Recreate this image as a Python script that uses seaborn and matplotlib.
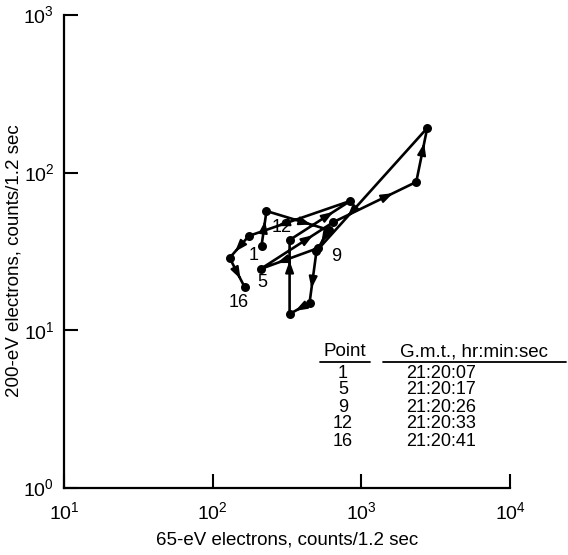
import numpy as np
import pandas as pd
import matplotlib
matplotlib.use("Agg")
import matplotlib.pyplot as plt
import seaborn as sns

# Data, in time order: points 1..16
point_no = list(range(1, 17))
e65 = [213, 230, 601, 514, 210, 649, 2339, 2773, 499, 448, 329, 329, 843, 175, 130, 164]
e200 = [34.3, 57.1, 43.4, 33.3, 24.5, 48.6, 87.3, 192, 31.8, 14.9, 12.7, 37.4, 66.2, 39.7, 28.8, 18.8]
labelled = [1, 5, 9, 12, 16]
label_offsets = {1: (-6, -7), 5: (1.5, -10), 9: (14, -4), 12: (-6, 9), 16: (-4, -11)}
table_points = ["1", "5", "9", "12", "16"]
table_times = ["21:20:07", "21:20:17", "21:20:26", "21:20:33", "21:20:41"]
xticks = [10, 100, 1000, 10000]
yticks = [1, 10, 100, 1000]

df = pd.DataFrame({"point": point_no, "x": e65, "y": e200})

sns.set_style("ticks")
plt.rcParams["font.family"] = ["Liberation Sans", "DejaVu Sans"]
plt.rcParams["mathtext.fontset"] = "custom"
plt.rcParams["mathtext.rm"] = "Liberation Sans"
plt.rcParams["text.color"] = "black"
plt.rcParams["axes.labelcolor"] = "black"

fig = plt.figure(figsize=(5.68, 5.55), dpi=100)
ax = fig.add_axes([0.1127, 0.1207, 0.7853, 0.8523])
ax.set_xscale("log")
ax.set_yscale("log")

sns.lineplot(data=df, x="x", y="y", sort=False, estimator=None, color="black",
             lw=1.9, ax=ax, legend=False)
sns.scatterplot(data=df, x="x", y="y", color="black", s=42, edgecolor="black",
                linewidth=0, ax=ax, legend=False, zorder=5)

# arrowheads along each segment
lx, ly = np.log10(df["x"].values), np.log10(df["y"].values)
for i in range(len(df) - 1):
    f = 0.72
    ax0, ay0 = lx[i] + (lx[i + 1] - lx[i]) * (f - 0.08), ly[i] + (ly[i + 1] - ly[i]) * (f - 0.08)
    ax1, ay1 = lx[i] + (lx[i + 1] - lx[i]) * f, ly[i] + (ly[i + 1] - ly[i]) * f
    ax.annotate("", xy=(10 ** ax1, 10 ** ay1), xytext=(10 ** ax0, 10 ** ay0),
                arrowprops=dict(arrowstyle="-|>,head_length=0.7,head_width=0.25",
                                color="black", lw=1.5, shrinkA=0, shrinkB=0))

for p in labelled:
    r = df[df["point"] == p].iloc[0]
    ax.annotate(str(p), xy=(r["x"], r["y"]), xytext=label_offsets[p],
                textcoords="offset points", ha="center", va="center", fontsize=13)

ax.set_xlim(10, 10000)
ax.set_ylim(1, 1000)
ax.set_xticks(xticks)
ax.set_yticks(yticks)
ax.set_xticklabels([r"$10^{%d}$" % int(np.log10(v)) for v in xticks])
ax.set_yticklabels([r"$10^{%d}$" % int(np.log10(v)) for v in yticks])
ax.minorticks_off()
ax.tick_params(axis="both", which="major", direction="in", length=10, width=1.5,
               labelsize=14, colors="black")
ax.tick_params(axis="x", pad=10)
ax.tick_params(axis="y", pad=7)
for s in ["top", "right"]:
    ax.spines[s].set_visible(False)
for s in ["left", "bottom"]:
    ax.spines[s].set_linewidth(1.6)
    ax.spines[s].set_color("black")

ax.set_xlabel("65-eV electrons, counts/1.2 sec", fontsize=13.5, labelpad=5)
ax.set_ylabel("200-eV electrons, counts/1.2 sec", fontsize=13.5)
ax.yaxis.set_label_coords(-0.092, 0.48)

# table
def fx(px):
    return px / 568.0
def fy(py):
    return 1 - py / 555.0

fig.text(fx(345), fy(352), "Point", ha="center", va="center", fontsize=13.5)
fig.text(fx(474), fy(352), "G.m.t., hr:min:sec", ha="center", va="center", fontsize=13.5)
fig.add_artist(plt.Line2D([fx(320), fx(370)], [fy(362), fy(362)], color="black", lw=1.3))
fig.add_artist(plt.Line2D([fx(383), fx(566)], [fy(362), fy(362)], color="black", lw=1.3))
row_y = [373, 390, 407, 424, 441]
for ry, pt, tm in zip(row_y, table_points, table_times):
    fig.text(fx(343), fy(ry), pt, ha="center", va="center", fontsize=13)
    fig.text(fx(441), fy(ry), tm, ha="center", va="center", fontsize=13)

fig.savefig("out.png", dpi=100)
